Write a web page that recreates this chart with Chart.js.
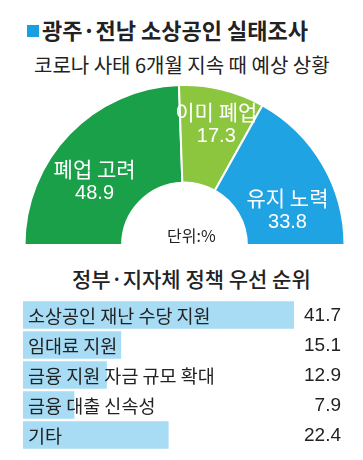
<!DOCTYPE html>
<html>
<head>
<meta charset="utf-8">
<script src="https://cdn.jsdelivr.net/npm/chart.js@4"></script>
<style>
  html, body { margin: 0; padding: 0; background: #fff; }
  #wrap { position: relative; width: 363px; height: 460px; overflow: hidden; background: #fff;
          font-family: "Noto Sans CJK KR", sans-serif; color: #222; }
  .t { position: absolute; white-space: nowrap; line-height: 1; }
  #sq { position: absolute; left: 27px; top: 25px; width: 12px; height: 12px; background: #1a9fe0; }
  #title { left: 42px; top: 18px; font-size: 22px; font-weight: 700; }
  #sub { left: 34px; top: 55px; font-size: 20px; }
  #title2 { left: 72px; top: 268px; font-size: 21px; font-weight: 500; }
  #unit { left: 167px; top: 227px; font-size: 16px; }
  #pieBox { position: absolute; left: 23px; top: 84px; width: 323px; height: 162px; }
  #barBox { position: absolute; left: 23px; top: 300px; width: 325px; height: 150px; }
</style>
</head>
<body>
<div id="wrap">
  <div id="sq"></div>
  <div class="t" id="title">광주·전남 소상공인 실태조사</div>
  <div class="t" id="sub">코로나 사태 6개월 지속 때 예상 상황</div>
  <div id="pieBox"><canvas id="pie"></canvas></div>
  <div class="t" id="unit">단위:%</div>
  <div class="t" id="title2">정부·지자체 정책 우선 순위</div>
  <div id="barBox"><canvas id="bar"></canvas></div>
</div>
<script>
// 코로나 사태 6개월 지속 때 예상 상황 (%)
const outlookLabels = ['폐업 고려', '이미 폐업', '유지 노력'];
const outlookValues = [48.9, 17.3, 33.8];
const outlookColors = ['#1ba04a', '#8cc63f', '#1fa3e3'];

// 정부·지자체 정책 우선 순위 (%)
const policyLabels = ['소상공인 재난 수당 지원', '임대료 지원', '금융 지원 자금 규모 확대', '금융 대출 신속성', '기타'];
const policyValues = [41.7, 15.1, 12.9, 7.9, 22.4];

const KR = '"Noto Sans CJK KR", sans-serif';

// slice labels: placed from the arc geometry, nudged a little like the print version
const pieLabelPlugin = {
    id: 'pieLabels',
    afterDatasetsDraw(chart) {
        const ctx = chart.ctx;
        const nudgeDeg = [-8, 1, 11];
        const nudgeR = [0, 15, -2];
        chart.getDatasetMeta(0).data.forEach((arc, i) => {
            const p = arc.getProps(['x', 'y', 'startAngle', 'endAngle', 'innerRadius', 'outerRadius'], true);
            const a = (p.startAngle + p.endAngle) / 2 + nudgeDeg[i] * Math.PI / 180;
            const r = (p.innerRadius + p.outerRadius) / 2 + nudgeR[i];
            const cx = p.x + Math.cos(a) * r;
            const cy = p.y + Math.sin(a) * r;
            ctx.save();
            ctx.fillStyle = '#fff';
            ctx.textAlign = 'center';
            ctx.textBaseline = 'middle';
            ctx.font = '21px ' + KR;
            ctx.fillText(outlookLabels[i], cx, cy - 11);
            ctx.font = '20px "Liberation Sans", sans-serif';
            ctx.fillText(outlookValues[i].toFixed(1), cx, cy + 14);
            ctx.restore();
        });
    }
};

new Chart(document.getElementById('pie').getContext('2d'), {
    type: 'doughnut',
    data: {
        labels: outlookLabels,
        datasets: [{
            data: outlookValues,
            backgroundColor: outlookColors,
            borderColor: '#fff',
            borderWidth: 2
        }]
    },
    options: {
        responsive: true,
        maintainAspectRatio: false,
        animation: false,
        rotation: -90,
        circumference: 180,
        cutout: '39%',
        layout: { padding: 0 },
        plugins: { legend: { display: false }, tooltip: { enabled: false } }
    },
    plugins: [pieLabelPlugin]
});

// category text inside each bar, value at the right edge
const barLabelPlugin = {
    id: 'barLabels',
    afterDatasetsDraw(chart) {
        const ctx = chart.ctx;
        const area = chart.chartArea;
        chart.getDatasetMeta(0).data.forEach((bar, i) => {
            ctx.save();
            ctx.fillStyle = '#222';
            ctx.textBaseline = 'middle';
            ctx.font = '18.5px ' + KR;
            ctx.textAlign = 'left';
            ctx.fillText(policyLabels[i], area.left + 5, bar.y + 1);
            ctx.font = '19px "Liberation Sans Narrow", "Liberation Sans", sans-serif';
            ctx.textAlign = 'right';
            ctx.fillText(policyValues[i].toFixed(1), area.right - 7, bar.y + 1);
            ctx.restore();
        });
    }
};

new Chart(document.getElementById('bar').getContext('2d'), {
    type: 'bar',
    data: {
        labels: policyLabels,
        datasets: [{
            data: policyValues,
            backgroundColor: '#a8dcf5',
            barPercentage: 0.91,
            categoryPercentage: 1
        }]
    },
    options: {
        indexAxis: 'y',
        responsive: true,
        maintainAspectRatio: false,
        animation: false,
        layout: { padding: 0 },
        plugins: { legend: { display: false }, tooltip: { enabled: false } },
        scales: {
            x: { display: false, min: 0, max: 50 },
            y: { display: false }
        }
    },
    plugins: [barLabelPlugin]
});
</script>
</body>
</html>
